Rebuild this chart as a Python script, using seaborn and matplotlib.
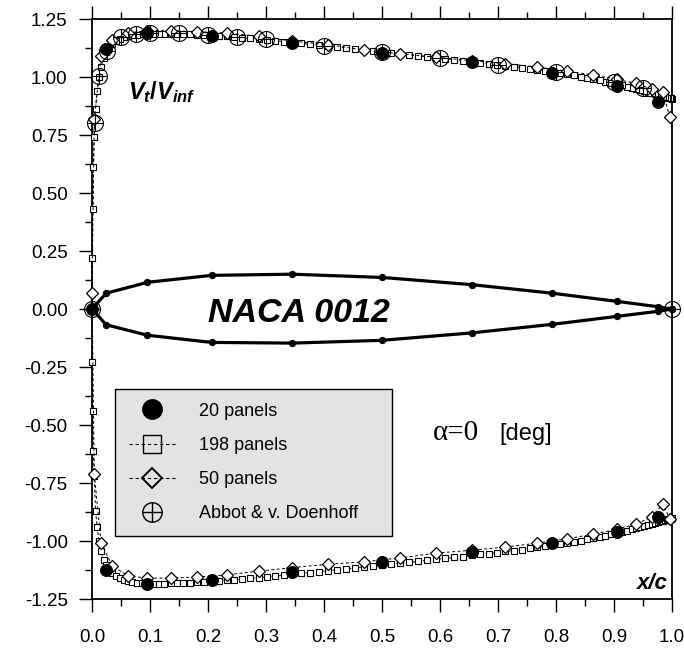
import matplotlib
matplotlib.use("Agg")
import matplotlib.pyplot as plt
import seaborn as sns
from matplotlib.lines import Line2D
from matplotlib.ticker import MultipleLocator, FormatStrFormatter

# ---------------------------------------------------------------------------
# NACA 0012 surface velocity, alpha = 0 deg
# ---------------------------------------------------------------------------

# airfoil contour (thickness exaggerated for display), 20-panel nodes
foil_x_upper = [1.0, 0.9755, 0.9045, 0.7939, 0.6545, 0.5, 0.3455, 0.2061, 0.0955, 0.0245, 0.0]
foil_y_upper = [0.0, 0.010, 0.033, 0.068, 0.105, 0.136, 0.150, 0.145, 0.115, 0.068, 0.0]
foil_x_lower = [0.0245, 0.0955, 0.2061, 0.3455, 0.5, 0.6545, 0.7939, 0.9045, 0.9755, 1.0]
foil_y_lower = [-0.068, -0.113, -0.144, -0.147, -0.135, -0.103, -0.066, -0.032, -0.010, 0.0]

# 20 panels
x20_upper = [0.0, 0.0245, 0.0955, 0.2061, 0.3455, 0.5, 0.6545, 0.7939, 0.9045, 0.9755]
v20_upper = [0.0, 1.12, 1.19, 1.177, 1.147, 1.103, 1.065, 1.017, 0.961, 0.892]
x20_lower = [0.0245, 0.0955, 0.2061, 0.3455, 0.5, 0.6545, 0.7939, 0.9045, 0.9755]
v20_lower = [-1.125, -1.185, -1.17, -1.134, -1.09, -1.047, -1.009, -0.961, -0.897]

# 198 panels
x198 = [0.00025, 0.00099, 0.00222, 0.00394, 0.00616, 0.00886, 0.01204, 0.01571, 0.01986, 0.02447,
        0.02956, 0.03511, 0.04113, 0.04759, 0.05450, 0.06185, 0.06963, 0.07784, 0.08646, 0.09549,
        0.10492, 0.11474, 0.12495, 0.13551, 0.14645, 0.15773, 0.16934, 0.18129, 0.19355, 0.20611,
        0.21896, 0.23208, 0.24548, 0.25912, 0.27300, 0.28711, 0.30143, 0.31594, 0.33063, 0.34549,
        0.36050, 0.37566, 0.39093, 0.40631, 0.42178, 0.43733, 0.45295, 0.46861, 0.48429, 0.50000,
        0.51571, 0.53139, 0.54705, 0.56267, 0.57822, 0.59369, 0.60907, 0.62434, 0.63950, 0.65451,
        0.66937, 0.68406, 0.69857, 0.71289, 0.72700, 0.74088, 0.75452, 0.76792, 0.78104, 0.79389,
        0.80645, 0.81871, 0.83066, 0.84227, 0.85355, 0.86449, 0.87505, 0.88526, 0.89508, 0.90451,
        0.91354, 0.92216, 0.93037, 0.93815, 0.94550, 0.95241, 0.95887, 0.96489, 0.97044, 0.97553,
        0.98014, 0.98429, 0.98796, 0.99114, 0.99384, 0.99606, 0.99778, 0.99901, 0.99975]
v198_upper = [0.22, 0.43, 0.61, 0.74, 0.86, 0.94, 1.00, 1.045, 1.08, 1.108,
              1.128, 1.143, 1.155, 1.164, 1.171, 1.176, 1.180, 1.183, 1.185, 1.186,
              1.187, 1.187, 1.187, 1.187, 1.186, 1.185, 1.184, 1.183, 1.181, 1.179,
              1.177, 1.175, 1.172, 1.169, 1.166, 1.163, 1.160, 1.156, 1.153, 1.149,
              1.145, 1.141, 1.137, 1.133, 1.129, 1.125, 1.121, 1.117, 1.112, 1.108,
              1.104, 1.100, 1.096, 1.092, 1.087, 1.083, 1.079, 1.075, 1.071, 1.066,
              1.062, 1.058, 1.053, 1.049, 1.045, 1.040, 1.036, 1.031, 1.026, 1.022,
              1.017, 1.012, 1.007, 1.002, 0.997, 0.991, 0.986, 0.980, 0.975, 0.969,
              0.964, 0.958, 0.953, 0.948, 0.943, 0.938, 0.933, 0.929, 0.925, 0.921,
              0.918, 0.915, 0.913, 0.911, 0.910, 0.909, 0.908, 0.908, 0.907]
v198_lower = [-0.23, -0.44, -0.61, -0.72, -0.87, -0.94, -1.00, -1.045, -1.08, -1.105,
              -1.125, -1.140, -1.152, -1.161, -1.168, -1.173, -1.177, -1.180, -1.182, -1.183,
              -1.184, -1.184, -1.184, -1.183, -1.182, -1.181, -1.180, -1.178, -1.176, -1.174,
              -1.172, -1.170, -1.167, -1.164, -1.161, -1.158, -1.155, -1.151, -1.148, -1.144,
              -1.140, -1.136, -1.132, -1.128, -1.124, -1.120, -1.116, -1.112, -1.108, -1.104,
              -1.100, -1.096, -1.092, -1.088, -1.083, -1.079, -1.075, -1.071, -1.067, -1.062,
              -1.058, -1.054, -1.050, -1.045, -1.041, -1.037, -1.032, -1.027, -1.023, -1.018,
              -1.013, -1.008, -1.003, -0.998, -0.993, -0.988, -0.982, -0.977, -0.971, -0.966,
              -0.961, -0.955, -0.950, -0.945, -0.940, -0.935, -0.930, -0.926, -0.922, -0.918,
              -0.915, -0.912, -0.910, -0.908, -0.906, -0.905, -0.904, -0.903, -0.903]

# 50 panels
x50_upper = [0.0, 0.0039, 0.0157, 0.0351, 0.0619, 0.0955, 0.1355, 0.1813, 0.2321, 0.2871,
             0.3455, 0.4063, 0.4686, 0.5314, 0.5937, 0.6545, 0.7129, 0.7679, 0.8187, 0.8645,
             0.9045, 0.9382, 0.9649, 0.9843, 0.9961]
v50_upper = [0.07, 0.82, 1.09, 1.16, 1.19, 1.20, 1.20, 1.195, 1.19, 1.175,
             1.155, 1.14, 1.116, 1.10, 1.085, 1.07, 1.058, 1.043, 1.025, 1.009,
             0.99, 0.972, 0.948, 0.935, 0.828]
x50_lower = [0.0039, 0.0157, 0.0351, 0.0619, 0.0955, 0.1355, 0.1813, 0.2321, 0.2871,
             0.3455, 0.4063, 0.4686, 0.5314, 0.5937, 0.6545, 0.7129, 0.7679, 0.8187, 0.8645,
             0.9045, 0.9382, 0.9649, 0.9843, 0.9961]
v50_lower = [-0.71, -1.01, -1.107, -1.15, -1.16, -1.16, -1.155, -1.146, -1.13,
             -1.115, -1.10, -1.09, -1.073, -1.052, -1.04, -1.026, -1.009, -0.991, -0.97,
             -0.95, -0.927, -0.897, -0.84, -0.905]

# Abbott & von Doenhoff tabulated values
x_abbott = [0.0, 0.005, 0.0125, 0.025, 0.05, 0.075, 0.1, 0.15, 0.2, 0.25, 0.3,
            0.4, 0.5, 0.6, 0.7, 0.8, 0.9, 0.95, 1.0]
v_abbott = [0.0, 0.800, 1.005, 1.114, 1.174, 1.184, 1.188, 1.188, 1.183, 1.174, 1.162,
            1.135, 1.108, 1.080, 1.053, 1.022, 0.978, 0.952, 0.0]

legend_labels = ["20 panels", "198 panels", "50 panels", "Abbot & v. Doenhoff"]
x_ticks = [0.0, 0.1, 0.2, 0.3, 0.4, 0.5, 0.6, 0.7, 0.8, 0.9, 1.0]
y_ticks = [-1.25, -1.0, -0.75, -0.5, -0.25, 0.0, 0.25, 0.5, 0.75, 1.0, 1.25]

# ---------------------------------------------------------------------------
sns.set_style("ticks")
plt.rcParams.update({
    "font.family": ["DejaVu Sans Condensed", "Liberation Sans Narrow", "Liberation Sans", "DejaVu Sans"],
    "text.color": "black",
    "xtick.color": "black",
    "ytick.color": "black",
    "axes.unicode_minus": False,
    "mathtext.fontset": "custom",
    "mathtext.it": "Liberation Sans:italic:bold",
    "mathtext.rm": "Liberation Sans:bold",
    "mathtext.bf": "Liberation Sans:bold",
})

fig = plt.figure(figsize=(6.84, 6.50), dpi=100)
ax = fig.add_axes([92 / 684, 51 / 650, 580 / 684, 580 / 650])
ax.set_facecolor("white")

DASH = (0, (3, 2.5))


def draw(x, y, **kw):
    sns.lineplot(x=x, y=y, sort=False, estimator=None, ax=ax, legend=False,
                 color="black", clip_on=False, **kw)


# 198 panels: dashed line with small open squares (upper TE -> LE -> lower TE)
draw(x198[::-1] + x198, v198_upper[::-1] + v198_lower,
     linestyle=DASH, linewidth=0.7, marker="s", markersize=4.2,
     markerfacecolor="white", markeredgecolor="black", markeredgewidth=0.8, zorder=3)

# 50 panels: open diamonds
draw(x50_upper[::-1] + x50_lower, v50_upper[::-1] + v50_lower,
     linestyle=DASH, linewidth=0.7, marker="D", markersize=6,
     markerfacecolor="white", markeredgecolor="black", markeredgewidth=0.9, zorder=4)

# 20 panels: filled circles
draw(x20_upper, v20_upper, linestyle="none", marker="o", markersize=8.5,
     markerfacecolor="black", markeredgecolor="black", markeredgewidth=0.8, zorder=5)
draw(x20_lower, v20_lower, linestyle="none", marker="o", markersize=8.5,
     markerfacecolor="black", markeredgecolor="black", markeredgewidth=0.8, zorder=5)

# Abbott & von Doenhoff: circle with cross
draw(x_abbott, v_abbott, linestyle="none", marker="o", markersize=11.5,
     markerfacecolor="none", markeredgecolor="black", markeredgewidth=0.8, zorder=6)
draw(x_abbott, v_abbott, linestyle="none", marker="+", markersize=11.5,
     markeredgecolor="black", markeredgewidth=0.8, zorder=6)

# airfoil contour with panel nodes
draw(foil_x_upper + foil_x_lower, foil_y_upper + foil_y_lower,
     linestyle="-", linewidth=2.3, marker="o", markersize=4.5,
     markerfacecolor="black", markeredgecolor="black", zorder=7)

# axes
ax.set_xlim(0, 1)
ax.set_ylim(-1.25, 1.25)
ax.set_xticks(x_ticks)
ax.set_yticks(y_ticks)
ax.xaxis.set_minor_locator(MultipleLocator(0.05))
ax.yaxis.set_minor_locator(MultipleLocator(0.125))
ax.xaxis.set_major_formatter(FormatStrFormatter("%.1f"))
ax.yaxis.set_major_formatter(FormatStrFormatter("%.2f"))
ax.set_xlabel("")
ax.set_ylabel("")
ax.tick_params(axis="x", which="both", top=True, bottom=True, direction="out")
ax.tick_params(axis="y", which="both", left=True, right=False, direction="out")
ax.tick_params(which="major", length=9.5, width=1.0, color="black")
ax.tick_params(which="minor", length=5, width=1.0, color="black")
ax.tick_params(axis="x", pad=12, labelsize=13.5, labelcolor="black")
ax.tick_params(axis="y", pad=8, labelsize=13.5, labelcolor="black")
for side in ["left", "right", "top", "bottom"]:
    ax.spines[side].set_visible(True)
    ax.spines[side].set_linewidth(1.3)
    ax.spines[side].set_color("black")

# annotations
ax.text(0.062, 0.905, r"$V_t/V_{inf}$", fontsize=17, ha="left", va="baseline")
ax.text(0.2, -0.056, "NACA 0012", fontsize=24.5, fontweight="bold", fontstyle="italic",
        family="Liberation Sans", ha="left", va="baseline", zorder=8)
ax.text(0.993, -1.205, "x/c", fontsize=16, fontweight="bold", fontstyle="italic",
        family="Liberation Sans", ha="right", va="baseline")
ax.text(0.588, -0.565, "\u03b1=0", fontsize=21, family="Liberation Serif",
        ha="left", va="baseline")
ax.text(0.703, -0.565, "[deg]", fontsize=17, family="Liberation Sans",
        ha="left", va="baseline")

# legend
h20 = Line2D([], [], linestyle="none", marker="o", markersize=14,
             markerfacecolor="black", markeredgecolor="black")
h198 = Line2D([], [], linestyle=DASH, linewidth=0.8, color="black", marker="s",
              markersize=12.5, markerfacecolor="none", markeredgecolor="black",
              markeredgewidth=1.0)
h50 = Line2D([], [], linestyle=DASH, linewidth=0.8, color="black", marker="D",
             markersize=10, markerfacecolor="none", markeredgecolor="black",
             markeredgewidth=1.4)
hab = (Line2D([], [], linestyle="none", marker="o", markersize=14,
              markerfacecolor="none", markeredgecolor="black", markeredgewidth=1.0),
       Line2D([], [], linestyle="none", marker="+", markersize=14,
              markeredgecolor="black", markeredgewidth=1.0))
leg = ax.legend([h20, h198, h50, hab], legend_labels, loc="lower left",
                bbox_to_anchor=(0.04, 0.109, 0.478, 0.241), mode="expand",
                frameon=True, fancybox=False, edgecolor="black", facecolor="#e3e3e3",
                framealpha=1, prop={"family": "Liberation Sans", "size": 13},
                labelspacing=0.95, handlelength=2.6, handletextpad=1.3,
                borderpad=0.75, borderaxespad=0)
leg.get_frame().set_linewidth(1.0)
leg.set_zorder(9)

fig.savefig("out.png", dpi=100, facecolor="white")
